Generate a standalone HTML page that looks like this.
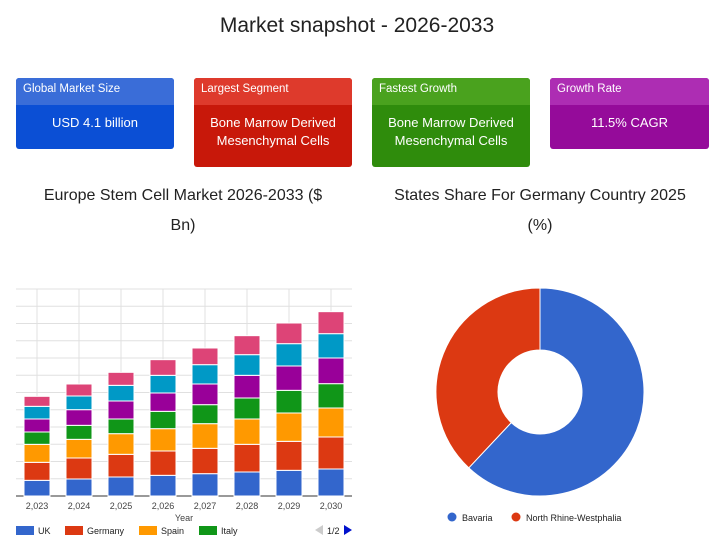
<!DOCTYPE html>
<html><head><meta charset="utf-8"><style>
body{margin:0;width:714px;height:552px;background:#fff;font-family:"Liberation Sans",sans-serif;position:relative;overflow:hidden}
.t{position:absolute;text-align:center;color:#222}
.card{position:absolute;border-radius:3px;overflow:hidden;color:#fff}
.card .h{height:27px;font-size:11.5px;line-height:22px;padding-left:7px}
.card .b{text-align:center;font-size:13px;line-height:18px;padding-top:9px}
</style></head><body>
<div class="t" style="left:0;width:714px;top:14px;font-size:21px">Market snapshot - 2026-2033</div>
<div class="card" style="left:16px;top:78px;width:158px;height:71px;background:#0b4fd5"><div class="h" style="background:#3a6dd8">Global Market Size</div><div class="b">USD 4.1 billion</div></div>
<div class="card" style="left:194px;top:78px;width:158px;height:89px;background:#c8180a"><div class="h" style="background:#de3a2c">Largest Segment</div><div class="b">Bone Marrow Derived<br>Mesenchymal Cells</div></div>
<div class="card" style="left:372px;top:78px;width:158px;height:89px;background:#2f8c0c"><div class="h" style="background:#4aa21e">Fastest Growth</div><div class="b">Bone Marrow Derived<br>Mesenchymal Cells</div></div>
<div class="card" style="left:550px;top:78px;width:159px;height:71px;background:#950b9a"><div class="h" style="background:#ad2db3">Growth Rate</div><div class="b">11.5% CAGR</div></div>
<div class="t" style="left:20px;width:326px;top:181px;font-size:16px;line-height:30px">Europe Stem Cell Market 2026-2033 ($<br>Bn)</div>
<div class="t" style="left:380px;width:320px;top:181px;font-size:16px;line-height:30px">States Share For Germany Country 2025<br>(%)</div>
<svg id="bar" style="position:absolute;left:0;top:0" width="714" height="552"></svg>
<script>
const years=["2,023","2,024","2,025","2,026","2,027","2,028","2,029","2,030"];
const uk=[4.7,5.1,5.7,6.2,6.7,7.2,7.7,8.1];
const germany=[5.4,6.3,6.8,7.3,7.6,8.3,8.7,9.6];
const spain=[5.4,5.6,6.2,6.7,7.4,7.6,8.5,8.7];
const italy=[3.7,4.2,4.4,5.2,5.7,6.3,6.8,7.3];
const purple=[3.9,4.7,5.4,5.5,6.2,6.8,7.3,7.7];
const teal=[3.8,4.1,4.7,5.3,5.8,6.2,6.7,7.3];
const pink=[3.0,3.6,3.9,4.7,5.0,5.7,6.2,6.6];
const pieLabels=["Bavaria","North Rhine-Westphalia"];
const pieValues=[62,38];
const NS="http://www.w3.org/2000/svg";
const svg=document.getElementById('bar');
function mk(t,a,p){const e=document.createElementNS(NS,t);for(const k in a)e.setAttribute(k,a[k]);(p||svg).appendChild(e);return e;}
const x0=16,x1=352,base=496,pxPerUnit=10/3,step=(x1-x0)/years.length;
const y=v=>base-v*pxPerUnit;
const xc=i=>x0+step*(i+0.5);
for(let g=0;g<=12;g++){const gy=base-g*17.25;const l=mk('line',{x1:x0,x2:x1,y1:gy,y2:gy,stroke:g==0?'#333':'#e0e0e0'});

}
years.forEach((yr,i)=>{const l=mk('line',{x1:xc(i),x2:xc(i),y1:289,y2:base,stroke:'#e0e0e0'});

});
const series=[["uk",uk,"#3366cc"],["germany",germany,"#dc3912"],["spain",spain,"#ff9900"],["italy",italy,"#109618"],["series-5",purple,"#990099"],["series-6",teal,"#0099c6"],["series-7",pink,"#dd4477"]];
years.forEach((yr,i)=>{let acc=0;series.forEach(s=>{const v=s[1][i];const r=mk('rect',{x:xc(i)-13,y:y(acc+v),width:26,height:v*pxPerUnit,fill:s[2],stroke:'#fff','stroke-width':1});


acc+=v;});
const t=mk('text',{x:xc(i),y:509,'text-anchor':'middle','font-size':9,fill:'#444'});t.textContent=yr;

});
const yt=mk('text',{x:184,y:521,'text-anchor':'middle','font-size':9,fill:'#444'});yt.textContent='Year';


[["UK",16],["Germany",65],["Spain",139],["Italy",199]].forEach((lg,i)=>{const g=mk('g',{});


mk('rect',{x:lg[1],y:526,width:18,height:9,fill:series[i][2]},g);const t=mk('text',{x:lg[1]+22,y:534,'font-size':9,fill:'#222'},g);t.textContent=lg[0];});
const pg=mk('g',{});


mk('path',{d:'M315 530 l8 -5 v10z',fill:'#ccc'},pg);const pt=mk('text',{x:327,y:534,'font-size':9,fill:'#222'},pg);pt.textContent='1/2';mk('path',{d:'M344 525 l8 5 l-8 5z',fill:'#0011cc'},pg);
const cx=540,cy=392,R=104,r0=42,pcol=["#3366cc","#dc3912"];
const tot=pieValues.reduce((a,b)=>a+b,0);let a0=0;
const pt2=(a,rr)=>[cx+rr*Math.sin(a),cy-rr*Math.cos(a)];
pieValues.forEach((v,i)=>{const a1=a0+v/tot*2*Math.PI;const lg=(a1-a0)>Math.PI?1:0;
const p1=pt2(a0,R),p2=pt2(a1,R),p3=pt2(a1,r0),p4=pt2(a0,r0);
const p=mk('path',{d:`M${p1} A${R} ${R} 0 ${lg} 1 ${p2} L${p3} A${r0} ${r0} 0 ${lg} 0 ${p4}Z`,fill:pcol[i],stroke:'#fff','stroke-width':1});


a0=a1;});
[[452,0],[516,1]].forEach(([lx,i])=>{const g=mk('g',{});


mk('circle',{cx:lx,cy:517,r:4.5,fill:pcol[i]},g);const t=mk('text',{x:lx+10,y:521,'font-size':9,fill:'#222'},g);t.textContent=pieLabels[i];});
</script>
</body></html>
